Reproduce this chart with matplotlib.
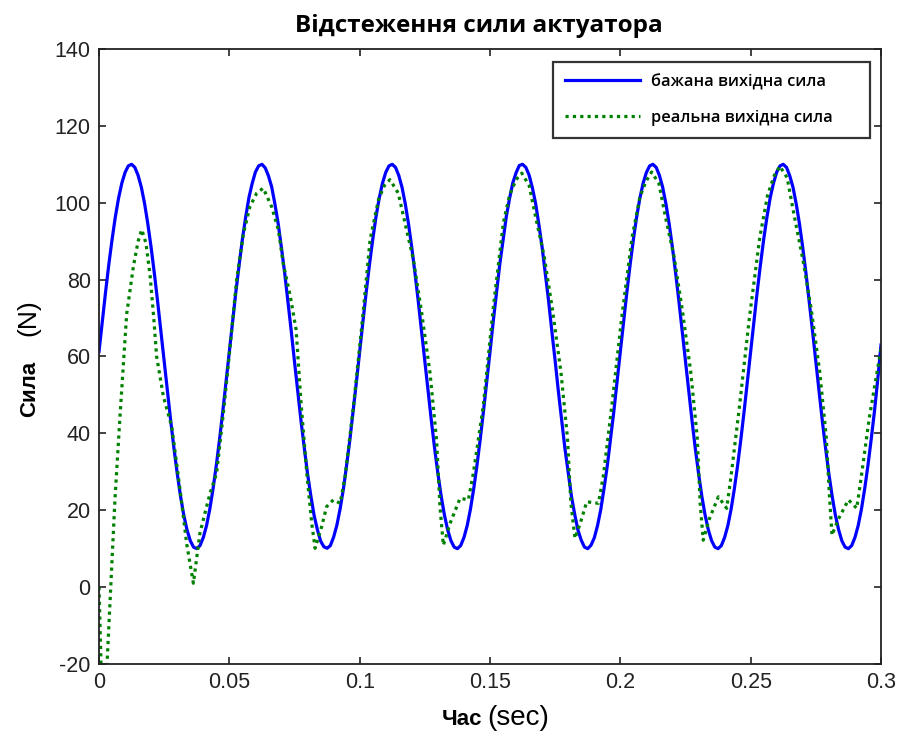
import matplotlib
matplotlib.use("Agg")
import matplotlib.pyplot as plt
import numpy as np

plt.rcParams["axes.unicode_minus"] = False

# бажана сила: крок 0.00125 с
t_des = np.arange(241) * 0.00125
f_des = [
    61.3, 69.1, 76.7, 83.9, 90.4, 96.3, 101.2, 105.1, 107.9, 109.6,
    110.0, 109.2, 107.1, 104.0, 99.7, 94.4, 88.3, 81.5, 74.2, 66.5,
    58.7, 50.9, 43.3, 36.1, 29.6, 23.7, 18.8, 14.9, 12.1, 10.4,
    10.0, 10.8, 12.9, 16.0, 20.3, 25.6, 31.7, 38.5, 45.8, 53.5,
    61.4, 69.0, 76.8, 83.8, 90.5, 96.2, 101.3, 105.0, 108.0, 109.6,
    110.0, 109.1, 107.0, 104.1, 99.6, 94.5, 88.2, 81.6, 74.1, 66.6,
    58.6, 51.0, 43.2, 36.2, 29.5, 23.8, 18.7, 15.0, 12.0, 10.5,
    10.1, 10.8, 13.0, 16.1, 20.4, 25.5, 31.8, 38.4, 45.9, 53.4,
    61.3, 69.1, 76.7, 83.9, 90.4, 96.3, 101.2, 105.1, 107.9, 109.6,
    110.0, 109.2, 107.1, 104.0, 99.7, 94.4, 88.3, 81.5, 74.2, 66.5,
    58.7, 50.9, 43.3, 36.1, 29.6, 23.7, 18.8, 14.9, 12.1, 10.4,
    10.0, 10.8, 12.9, 16.0, 20.3, 25.6, 31.7, 38.5, 45.8, 53.5,
    61.2, 69.2, 76.6, 84.0, 90.3, 96.4, 101.1, 105.2, 107.8, 109.7,
    110.0, 109.2, 107.2, 103.9, 99.8, 94.3, 88.4, 81.4, 74.3, 66.4,
    58.8, 50.8, 43.4, 36.0, 29.7, 23.6, 18.9, 14.8, 12.2, 10.4,
    10.0, 10.9, 12.8, 16.0, 20.2, 25.7, 31.6, 38.6, 45.7, 53.6,
    61.3, 69.1, 76.7, 83.9, 90.4, 96.3, 101.2, 105.1, 107.9, 109.6,
    110.0, 109.2, 107.1, 104.0, 99.7, 94.4, 88.3, 81.5, 74.2, 66.5,
    58.7, 50.9, 43.3, 36.1, 29.6, 23.7, 18.8, 14.9, 12.1, 10.4,
    10.0, 10.8, 12.9, 16.0, 20.3, 25.6, 31.7, 38.5, 45.8, 53.5,
    61.4, 69.1, 76.8, 83.9, 90.5, 96.3, 101.3, 105.1, 108.0, 109.6,
    110.0, 109.2, 107.0, 104.0, 99.6, 94.4, 88.2, 81.5, 74.1, 66.5,
    58.6, 50.9, 43.2, 36.1, 29.5, 23.7, 18.7, 14.9, 12.0, 10.4,
    10.0, 10.8, 12.9, 16.0, 20.3, 25.6, 31.7, 38.5, 45.8, 54.0,
    63.0,
]

# реальна сила: нерівномірні точки
t_act = [
    0.0, 0.0008, 0.003, 0.0045, 0.0061, 0.0081, 0.0106, 0.0132, 0.015, 0.0164,
    0.018, 0.0196, 0.021, 0.0221, 0.0247, 0.0279, 0.0311, 0.0336, 0.0362, 0.0387,
    0.0413, 0.0426, 0.0451, 0.0477, 0.0503, 0.0528, 0.0554, 0.0579, 0.0605, 0.063,
    0.0662, 0.0688, 0.0707, 0.0733, 0.0756, 0.0775, 0.0797, 0.0816, 0.0829, 0.0854,
    0.0873, 0.0899, 0.0925, 0.0944, 0.0976, 0.1008, 0.104, 0.1072, 0.1095, 0.1116,
    0.1148, 0.1174, 0.1206, 0.1238, 0.127, 0.1295, 0.1308, 0.1321, 0.1347, 0.1385,
    0.1417, 0.1436, 0.1474, 0.1513, 0.1551, 0.1575, 0.16, 0.1622, 0.165, 0.1676,
    0.1708, 0.174, 0.1772, 0.1797, 0.181, 0.1826, 0.1848, 0.1871, 0.1916, 0.1935,
    0.1967, 0.2005, 0.2045, 0.2075, 0.2098, 0.212, 0.2148, 0.2174, 0.2206, 0.2238,
    0.227, 0.2295, 0.2306, 0.2318, 0.234, 0.2376, 0.2408, 0.2425, 0.2457, 0.2495,
    0.2535, 0.2565, 0.259, 0.2612, 0.264, 0.2666, 0.2701, 0.2733, 0.2765, 0.279,
    0.2802, 0.2812, 0.2835, 0.2875, 0.2907, 0.2925, 0.2955, 0.2985, 0.3,
]
f_act = [
    0.0, -21.0, -21.0, 0.0, 22.7, 45.0, 71.0, 83.5, 90.0, 93.0,
    89.5, 81.0, 70.0, 60.0, 49.6, 41.7, 25.3, 11.4, 1.0, 14.0,
    21.0, 24.4, 29.6, 45.2, 62.6, 80.0, 92.0, 99.0, 102.5, 103.8,
    99.0, 93.0, 84.0, 76.0, 67.0, 48.0, 29.6, 16.6, 10.1, 15.7,
    20.9, 22.7, 21.8, 28.7, 47.0, 67.8, 90.4, 100.8, 104.5, 106.0,
    102.5, 94.7, 85.2, 71.3, 55.6, 38.3, 20.9, 10.9, 16.6, 23.1,
    22.7, 29.6, 47.0, 73.0, 94.7, 102.0, 106.0, 107.7, 104.5, 96.0,
    86.0, 72.0, 56.0, 39.0, 22.0, 12.7, 17.0, 22.2, 21.8, 29.0,
    47.0, 70.0, 91.0, 101.5, 105.5, 108.0, 105.0, 96.0, 86.0, 72.0,
    56.0, 39.0, 22.0, 12.2, 17.5, 23.5, 20.5, 29.0, 47.0, 70.0,
    91.0, 102.0, 107.0, 109.5, 106.5, 97.0, 85.0, 72.0, 56.0, 39.0,
    24.0, 13.5, 17.5, 22.7, 20.5, 29.0, 44.0, 56.0, 62.0,
]

fig = plt.figure(figsize=(9.01, 7.37), dpi=100)
ax = fig.add_axes([0.1099, 0.0991, 0.8679, 0.8344])

ax.plot(t_des, f_des, color="#0000ff", lw=2.3, label="бажана вихідна сила",
        solid_joinstyle="round")
ax.plot(t_act, f_act, color="#008000", lw=2.3, linestyle=(0, (1, 1.3)),
        label="реальна вихідна сила")

ax.set_xlim(0, 0.3)
ax.set_ylim(-20, 140)
ax.set_xticks([0, 0.05, 0.1, 0.15, 0.2, 0.25, 0.3])
ax.set_xticklabels(["0", "0.05", "0.1", "0.15", "0.2", "0.25", "0.3"])
ax.set_yticks(range(-20, 141, 20))
ax.tick_params(direction="in", length=5, width=1.2, top=True, right=True,
               labelsize=15.5, pad=6, colors="#222222")
for lbl in ax.get_xticklabels() + ax.get_yticklabels():
    lbl.set_family("Liberation Sans")
for s in ax.spines.values():
    s.set_linewidth(1.3)
    s.set_color("#222222")

leg = ax.legend(loc="upper left", bbox_to_anchor=(0.5806, 0.855, 0.4054, 0.124),
                mode="expand", frameon=True, fancybox=False, handlelength=4.6,
                handletextpad=0.65, labelspacing=1.2, borderpad=0.72,
                borderaxespad=0,
                prop={"family": ["Open Sans", "DejaVu Sans"], "size": 11.8,
                      "weight": "semibold"})
leg.get_frame().set_edgecolor("black")
leg.get_frame().set_linewidth(1.6)

fig.text(0.531, 0.957, "Відстеження сили актуатора", ha="center", va="baseline",
         family=["Open Sans", "DejaVu Sans"], fontweight="bold", fontsize=17.5)

fig.text(482 / 901, 1 - 725 / 737, "Час", ha="right", va="baseline",
         family="Liberation Sans", fontweight="bold", fontsize=16)
fig.text(487 / 901, 1 - 725 / 737, "(sec)", ha="left", va="baseline",
         family="Liberation Sans", fontsize=20)

fig.text(35 / 901, 1 - 417 / 737, "Сила", ha="left", va="baseline", rotation=90,
         rotation_mode="anchor", family="Liberation Sans", fontweight="bold", fontsize=16)
fig.text(35 / 901, 1 - 336 / 737, "(N)", ha="left", va="baseline", rotation=90,
         rotation_mode="anchor", family="Liberation Sans", fontsize=19)

fig.savefig("out.png", dpi=100)
